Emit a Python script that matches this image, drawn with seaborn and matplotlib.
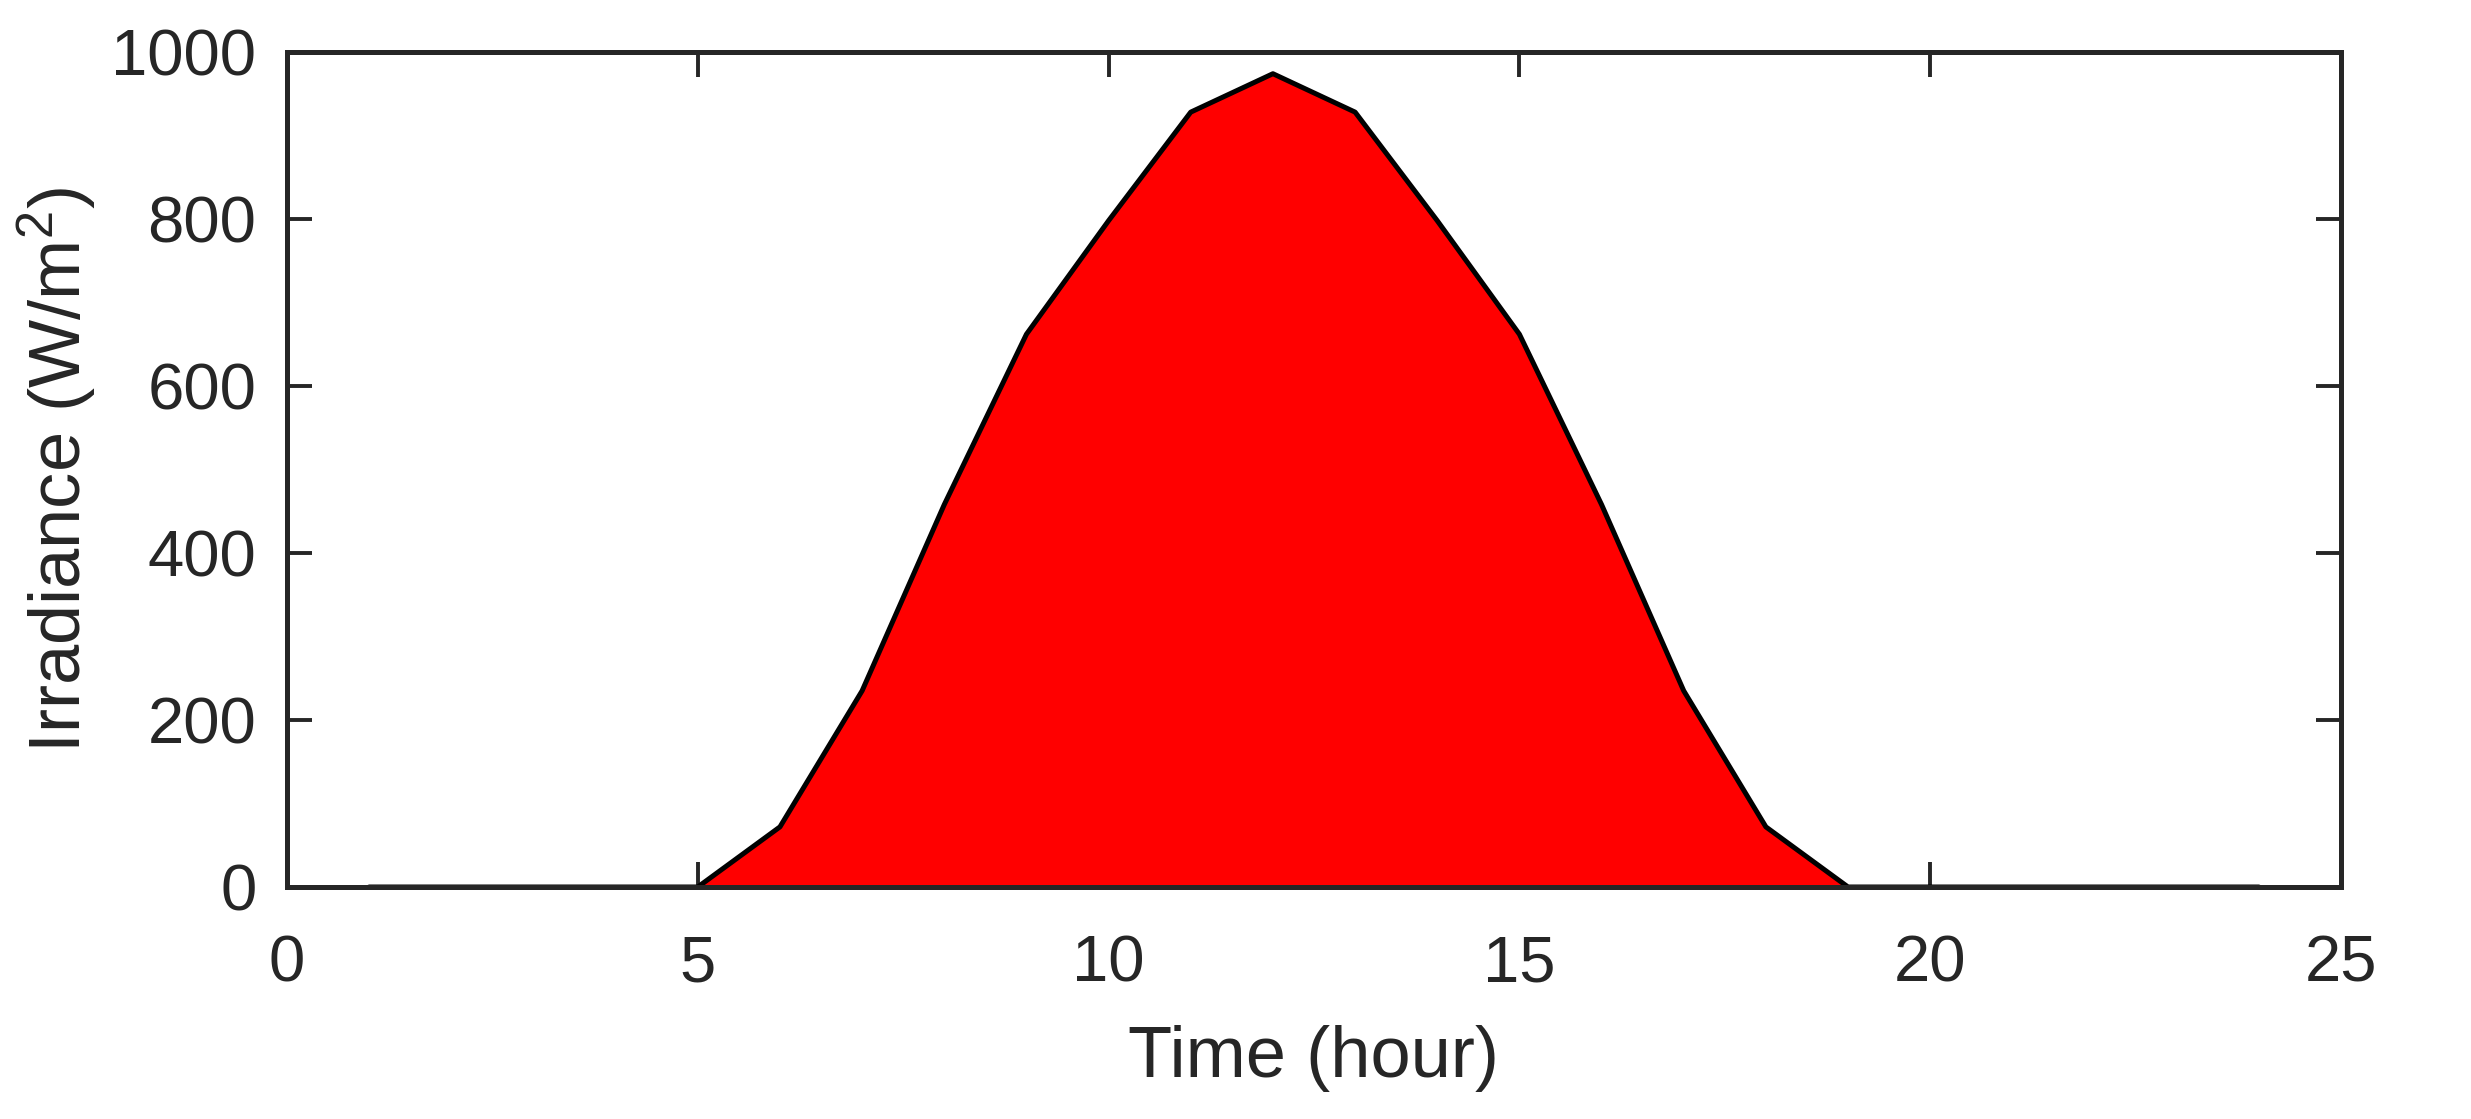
import matplotlib
matplotlib.use('Agg')
import matplotlib.pyplot as plt
import pandas as pd
import seaborn as sns

# Irradiance per hour
hours = [1, 2, 3, 4, 5, 6, 7, 8, 9, 10, 11, 12,
         13, 14, 15, 16, 17, 18, 19, 20, 21, 22, 23, 24]
irradiance = [0, 0, 0, 0, 0, 72, 235, 458, 662, 798, 928, 974,
              928, 798, 662, 458, 235, 72, 0, 0, 0, 0, 0, 0]
x_ticks = [0, 5, 10, 15, 20, 25]
y_ticks = [0, 200, 400, 600, 800, 1000]

df = pd.DataFrame({'hour': hours, 'irr': irradiance})

sns.set_style('white')
plt.rcParams['font.family'] = ['Liberation Sans', 'DejaVu Sans']
plt.rcParams['mathtext.fontset'] = 'custom'
plt.rcParams['mathtext.rm'] = 'Liberation Sans'
plt.rcParams['mathtext.default'] = 'regular'

grey = '#262626'
fig = plt.figure(figsize=(2471 / 200, 1119 / 200), dpi=200)
ax = fig.add_axes([287 / 2471, 1 - 887 / 1119, (2341 - 287) / 2471, (887 - 52) / 1119])

ax.fill_between(df['hour'], df['irr'], 0, color='#ff0000', linewidth=0)
sns.lineplot(data=df, x='hour', y='irr', ax=ax, color='black', linewidth=1.8)

ax.set_xlim(0, 25)
ax.set_ylim(0, 1000)
ax.set_xticks(x_ticks)
ax.set_yticks(y_ticks)
ax.tick_params(direction='in', length=9, width=1.4, color=grey, labelcolor=grey,
               labelsize=23.5, top=True, right=True, bottom=True, left=True)
ax.tick_params(axis='x', pad=17)
ax.tick_params(axis='y', pad=11)
for s in ax.spines.values():
    s.set_color(grey)
    s.set_linewidth(1.8)

ax.set_xlabel('Time (hour)', fontsize=26, color=grey, labelpad=11)
ax.set_ylabel('Irradiance (W/m$^{2}$)', fontsize=26, color=grey, labelpad=5)

fig.savefig('out.png', dpi=200)
